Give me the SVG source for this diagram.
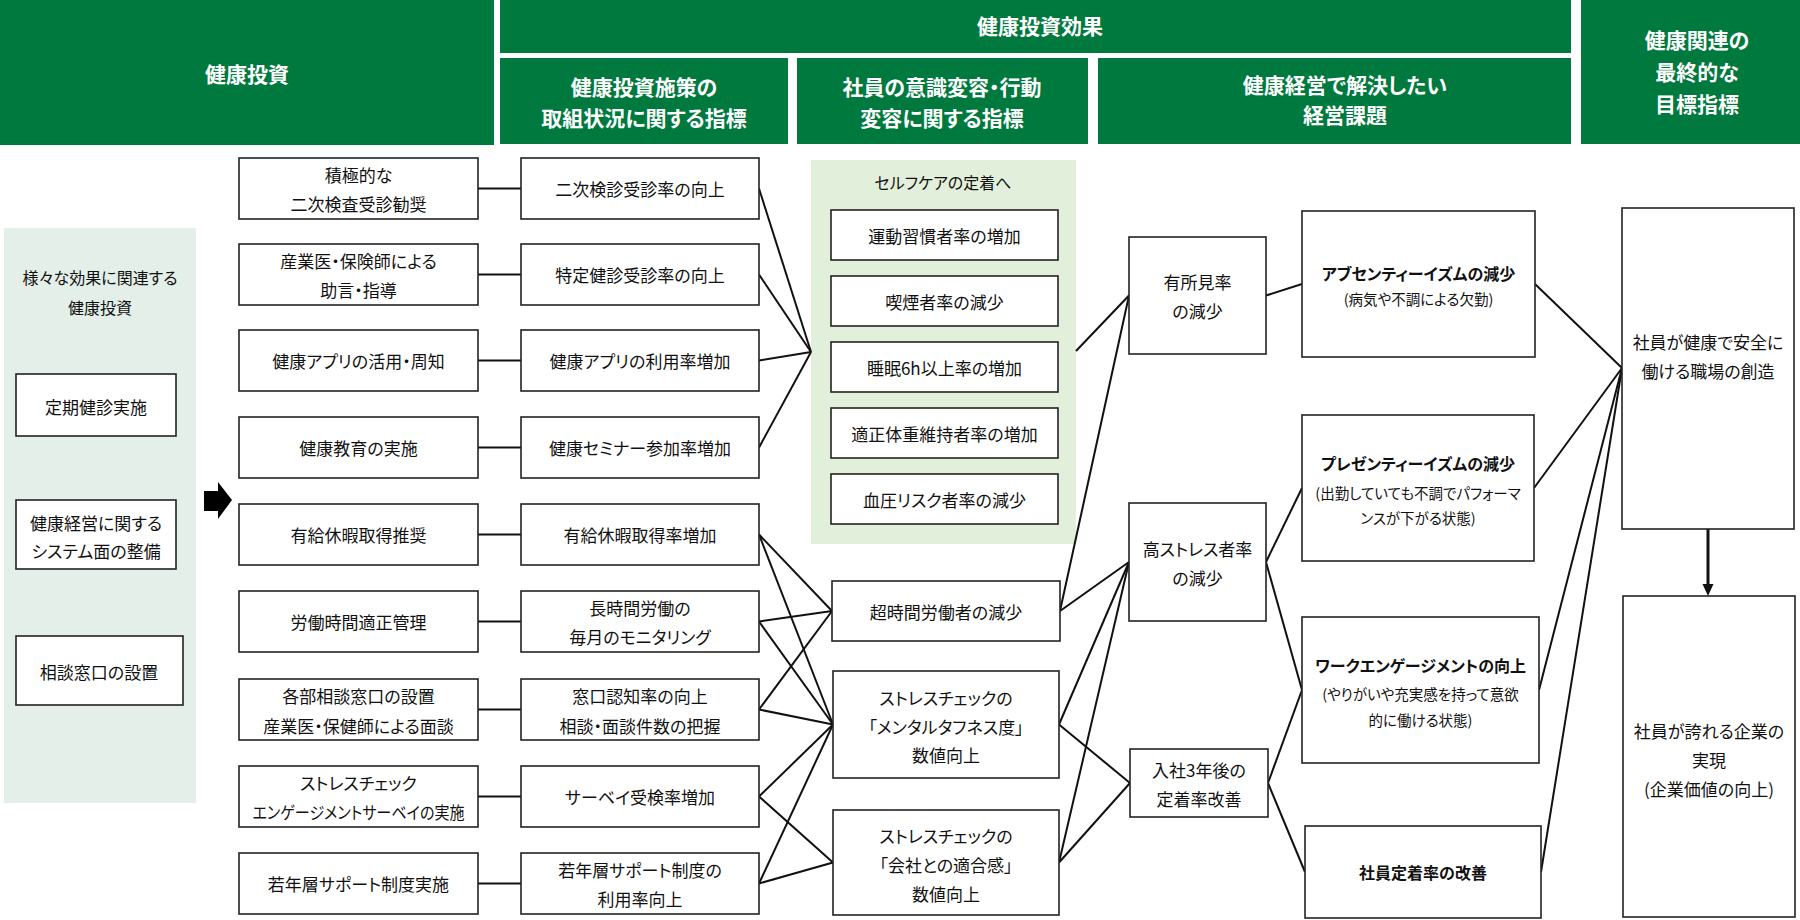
<svg xmlns="http://www.w3.org/2000/svg" width="1800" height="920" viewBox="0 0 1800 920">
<style>
text{font-family:"Noto Sans CJK JP","Noto Sans",sans-serif;font-feature-settings:"palt";text-anchor:middle;dominant-baseline:central;fill:#111}
.hdr{fill:#00793E}
.ht{fill:#fff;font-weight:700;font-size:21px}
.box{fill:#fff;stroke:#222;stroke-width:1.6}
.t{font-size:17px}
.s{font-size:16px}
.b{font-size:16px;font-weight:700}
.sub{font-size:14.5px}
.panelA{fill:#E3EFE8}
.panelB{fill:#E2EFDA}
.ln{stroke:#111;stroke-width:2;fill:none}
</style>
<rect width="1800" height="920" fill="#fff"/>

<g id="headers">
<rect class="hdr" x="0" y="0" width="494" height="145"/>
<text class="ht" x="247" y="73">健康投資</text>
<rect class="hdr" x="500" y="0" width="1071" height="53"/>
<text class="ht" x="1040" y="25">健康投資効果</text>
<rect class="hdr" x="500" y="58" width="288" height="86"/>
<text class="ht" x="644" y="86">健康投資施策の</text>
<text class="ht" x="644" y="117">取組状況に関する指標</text>
<rect class="hdr" x="797" y="58" width="291" height="86"/>
<text class="ht" x="942" y="86">社員の意識変容・行動</text>
<text class="ht" x="942" y="117">変容に関する指標</text>
<rect class="hdr" x="1098" y="58" width="473" height="86"/>
<text class="ht" x="1345" y="84">健康経営で解決したい</text>
<text class="ht" x="1345" y="114">経営課題</text>
<rect class="hdr" x="1581" y="0" width="219" height="144"/>
<text class="ht" x="1697" y="39">健康関連の</text>
<text class="ht" x="1697" y="71">最終的な</text>
<text class="ht" x="1697" y="103">目標指標</text>
</g>

<g id="panel-left">
<rect class="panelA" x="4" y="228" width="192" height="575"/>
<text class="s" x="100" y="277">様々な効果に関連する</text>
<text class="s" x="100" y="307">健康投資</text>
</g>
<g id="n-teiki"><rect class="box" x="16" y="374" width="160" height="62"/><text class="t" x="96" y="406">定期健診実施</text></g>
<g id="n-system"><rect class="box" x="16" y="500" width="160" height="69"/><text class="t" x="96" y="522">健康経営に関する</text><text class="t" x="96" y="550">システム面の整備</text></g>
<g id="n-soudan"><rect class="box" x="16" y="636" width="167" height="69"/><text class="t" x="99" y="671">相談窓口の設置</text></g>
<g id="arrow-main"><polygon points="204,491 218,491 218,482 232,500 218,519 218,511 204,511" fill="#000"/></g>

<g id="panel-selfcare">
<rect class="panelB" x="811" y="160" width="265" height="384"/>
<text class="s" x="943" y="182">セルフケアの定着へ</text>
</g>

<g id="connectors">
<line class="ln" x1="478" y1="188.5" x2="521" y2="188.5"/>
<line class="ln" x1="478" y1="274.5" x2="521" y2="274.5"/>
<line class="ln" x1="478" y1="360.5" x2="521" y2="360.5"/>
<line class="ln" x1="478" y1="447.5" x2="521" y2="447.5"/>
<line class="ln" x1="478" y1="534.5" x2="521" y2="534.5"/>
<line class="ln" x1="478" y1="621.5" x2="521" y2="621.5"/>
<line class="ln" x1="478" y1="709.5" x2="521" y2="709.5"/>
<line class="ln" x1="478" y1="796.5" x2="521" y2="796.5"/>
<line class="ln" x1="478" y1="883.5" x2="521" y2="883.5"/>
<line class="ln" x1="759" y1="188.5" x2="811" y2="352"/>
<line class="ln" x1="759" y1="274.5" x2="811" y2="352"/>
<line class="ln" x1="759" y1="360.5" x2="811" y2="352"/>
<line class="ln" x1="759" y1="447.5" x2="811" y2="352"/>
<line class="ln" x1="759" y1="534.5" x2="832" y2="611"/>
<line class="ln" x1="759" y1="534.5" x2="833" y2="724.5"/>
<line class="ln" x1="759" y1="621.5" x2="832" y2="611"/>
<line class="ln" x1="759" y1="621.5" x2="833" y2="724.5"/>
<line class="ln" x1="759" y1="709.5" x2="832" y2="611"/>
<line class="ln" x1="759" y1="709.5" x2="833" y2="724.5"/>
<line class="ln" x1="759" y1="796.5" x2="833" y2="724.5"/>
<line class="ln" x1="759" y1="796.5" x2="833" y2="862.5"/>
<line class="ln" x1="759" y1="883.5" x2="833" y2="724.5"/>
<line class="ln" x1="759" y1="883.5" x2="833" y2="862.5"/>
<line class="ln" x1="1076" y1="351" x2="1129" y2="295.5"/>
<line class="ln" x1="1060" y1="611" x2="1129" y2="295.5"/>
<line class="ln" x1="1060" y1="611" x2="1129" y2="562"/>
<line class="ln" x1="1059" y1="724.5" x2="1129" y2="562"/>
<line class="ln" x1="1059" y1="724.5" x2="1130" y2="783"/>
<line class="ln" x1="1059" y1="862.5" x2="1129" y2="562"/>
<line class="ln" x1="1059" y1="862.5" x2="1130" y2="783"/>
<line class="ln" x1="1266" y1="295.5" x2="1302" y2="284"/>
<line class="ln" x1="1266" y1="562" x2="1302" y2="488"/>
<line class="ln" x1="1266" y1="562" x2="1302" y2="690"/>
<line class="ln" x1="1268" y1="783" x2="1302" y2="690"/>
<line class="ln" x1="1268" y1="783" x2="1305" y2="872"/>
<line class="ln" x1="1535" y1="284" x2="1622" y2="368"/>
<line class="ln" x1="1534" y1="488" x2="1622" y2="368"/>
<line class="ln" x1="1539" y1="690" x2="1622" y2="368"/>
<line class="ln" x1="1541" y1="872" x2="1622" y2="368"/>
<line x1="1708" y1="529" x2="1708" y2="586" stroke="#111" stroke-width="3"/>
<polygon points="1702.5,584 1713.5,584 1708,596" fill="#111"/>
</g>

<g id="a1"><rect class="box" x="239" y="158" width="239" height="61"/><text class="t" x="358.5" y="174">積極的な</text><text class="t" x="358.5" y="203">二次検査受診勧奨</text></g>
<g id="a2"><rect class="box" x="239" y="244" width="239" height="61"/><text class="t" x="358.5" y="260">産業医・保険師による</text><text class="t" x="358.5" y="289">助言・指導</text></g>
<g id="a3"><rect class="box" x="239" y="330" width="239" height="61"/><text class="t" x="358.5" y="360.5">健康アプリの活用・周知</text></g>
<g id="a4"><rect class="box" x="239" y="417" width="239" height="61"/><text class="t" x="358.5" y="447.5">健康教育の実施</text></g>
<g id="a5"><rect class="box" x="239" y="504" width="239" height="61"/><text class="t" x="358.5" y="534.5">有給休暇取得推奨</text></g>
<g id="a6"><rect class="box" x="239" y="591" width="239" height="61"/><text class="t" x="358.5" y="621.5">労働時間適正管理</text></g>
<g id="a7"><rect class="box" x="239" y="679" width="239" height="61"/><text class="t" x="358.5" y="695">各部相談窓口の設置</text><text class="t" x="358.5" y="725">産業医・保健師による面談</text></g>
<g id="a8"><rect class="box" x="239" y="766" width="239" height="61"/><text class="t" x="358.5" y="782">ストレスチェック</text><text class="t" x="358.5" y="811" textLength="212" lengthAdjust="spacingAndGlyphs">エンゲージメントサーベイの実施</text></g>
<g id="a9"><rect class="box" x="239" y="853" width="239" height="61"/><text class="t" x="358.5" y="883.5">若年層サポート制度実施</text></g>

<g id="b1"><rect class="box" x="521" y="158" width="238" height="61"/><text class="t" x="640" y="188.5">二次検診受診率の向上</text></g>
<g id="b2"><rect class="box" x="521" y="244" width="238" height="61"/><text class="t" x="640" y="274.5">特定健診受診率の向上</text></g>
<g id="b3"><rect class="box" x="521" y="330" width="238" height="61"/><text class="t" x="640" y="360.5">健康アプリの利用率増加</text></g>
<g id="b4"><rect class="box" x="521" y="417" width="238" height="61"/><text class="t" x="640" y="447.5">健康セミナー参加率増加</text></g>
<g id="b5"><rect class="box" x="521" y="504" width="238" height="61"/><text class="t" x="640" y="534.5">有給休暇取得率増加</text></g>
<g id="b6"><rect class="box" x="521" y="591" width="238" height="61"/><text class="t" x="640" y="607">長時間労働の</text><text class="t" x="640" y="636">毎月のモニタリング</text></g>
<g id="b7"><rect class="box" x="521" y="679" width="238" height="61"/><text class="t" x="640" y="695">窓口認知率の向上</text><text class="t" x="640" y="725">相談・面談件数の把握</text></g>
<g id="b8"><rect class="box" x="521" y="766" width="238" height="61"/><text class="t" x="640" y="796.5">サーベイ受検率増加</text></g>
<g id="b9"><rect class="box" x="521" y="853" width="238" height="61"/><text class="t" x="640" y="869">若年層サポート制度の</text><text class="t" x="640" y="898">利用率向上</text></g>

<g id="c1"><rect class="box" x="831" y="210" width="227" height="50"/><text class="t" x="944.5" y="235">運動習慣者率の増加</text></g>
<g id="c2"><rect class="box" x="831" y="276" width="227" height="50"/><text class="t" x="944.5" y="301">喫煙者率の減少</text></g>
<g id="c3"><rect class="box" x="831" y="342" width="227" height="50"/><text class="t" x="944.5" y="367">睡眠6h以上率の増加</text></g>
<g id="c4"><rect class="box" x="831" y="408" width="227" height="50"/><text class="t" x="944.5" y="433">適正体重維持者率の増加</text></g>
<g id="c5"><rect class="box" x="831" y="474" width="227" height="50"/><text class="t" x="944.5" y="499">血圧リスク者率の減少</text></g>
<g id="c6"><rect class="box" x="832" y="581" width="228" height="60"/><text class="t" x="946" y="611">超時間労働者の減少</text></g>
<g id="c7"><rect class="box" x="833" y="671" width="226" height="107"/><text class="t" x="946" y="697">ストレスチェックの</text><text class="t" x="946" y="726">「メンタルタフネス度」</text><text class="t" x="946" y="754">数値向上</text></g>
<g id="c8"><rect class="box" x="833" y="810" width="226" height="105"/><text class="t" x="946" y="835">ストレスチェックの</text><text class="t" x="946" y="864">「会社との適合感」</text><text class="t" x="946" y="893">数値向上</text></g>

<g id="d1"><rect class="box" x="1129" y="237" width="137" height="117"/><text class="t" x="1197.5" y="281">有所見率</text><text class="t" x="1197.5" y="310">の減少</text></g>
<g id="d2"><rect class="box" x="1129" y="503" width="137" height="118"/><text class="t" x="1197.5" y="548">高ストレス者率</text><text class="t" x="1197.5" y="577">の減少</text></g>
<g id="d3"><rect class="box" x="1130" y="749" width="138" height="68"/><text class="t" x="1199" y="769">入社3年後の</text><text class="t" x="1199" y="798">定着率改善</text></g>

<g id="e1"><rect class="box" x="1302" y="211" width="233" height="146"/><text class="b" x="1418.5" y="273">アブセンティーイズムの減少</text><text class="sub" x="1418.5" y="298">(病気や不調による欠勤)</text></g>
<g id="e2"><rect class="box" x="1302" y="415" width="232" height="146"/><text class="b" x="1418" y="463">プレゼンティーイズムの減少</text><text class="sub" x="1418" y="492">(出勤していても不調でパフォーマ</text><text class="sub" x="1418" y="517">ンスが下がる状態)</text></g>
<g id="e3"><rect class="box" x="1302" y="617" width="237" height="146"/><text class="b" x="1420.5" y="665">ワークエンゲージメントの向上</text><text class="sub" x="1420.5" y="693">(やりがいや充実感を持って意欲</text><text class="sub" x="1420.5" y="719">的に働ける状態)</text></g>
<g id="e4"><rect class="box" x="1305" y="826" width="236" height="92"/><text class="b" x="1423" y="872">社員定着率の改善</text></g>

<g id="f1"><rect class="box" x="1622" y="208" width="172" height="321"/><text class="t" x="1708" y="341">社員が健康で安全に</text><text class="t" x="1708" y="370">働ける職場の創造</text></g>
<g id="f2"><rect class="box" x="1623" y="596" width="172" height="321"/><text class="t" x="1709" y="730">社員が誇れる企業の</text><text class="t" x="1709" y="759">実現</text><text class="t" x="1709" y="788">(企業価値の向上)</text></g>
</svg>
